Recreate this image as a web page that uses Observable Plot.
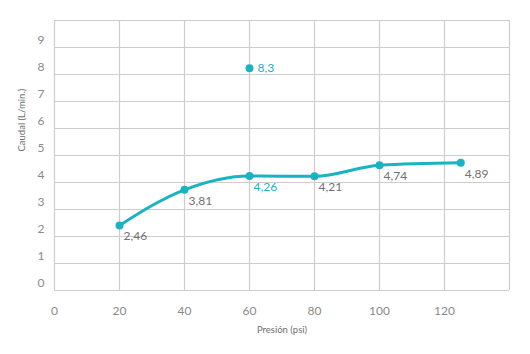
<!DOCTYPE html>
<html><head><meta charset="utf-8">
<script src="https://cdn.jsdelivr.net/npm/d3@7"></script>
<script src="https://cdn.jsdelivr.net/npm/@observablehq/plot@0.6"></script>
<style>body{margin:0;background:#fff;font-family:Lato,"Open Sans",sans-serif;}</style>
</head><body><div id="chart"></div>
<script>
const pressure = [20, 40, 60, 80, 100, 125];
const flow = [2.41, 3.73, 4.24, 4.23, 4.64, 4.73];
const flowLabels = ["2,46", "3,81", "4,26", "4,21", "4,74", "4,89"];
const labelHighlight = [false, false, true, false, false, false];
const outlierPressure = [60];
const outlierFlow = [8.23];
const outlierLabels = ["8,3"];
const xTicks = [0, 20, 40, 60, 80, 100, 120];
const xGrid = [0, 20, 40, 60, 80, 100, 120, 140];
const yTicks = [0, 1, 2, 3, 4, 5, 6, 7, 8, 9];
const yGrid = [0, 1, 2, 3, 4, 5, 6, 7, 8, 9, 10];
const xTitle = "Presión (psi)";
const yTitle = "Caudal (L/min.)";

const teal = "#1ab3c3";
const data = pressure.map((p, i) => ({p, f: flow[i], label: flowLabels[i], hi: labelHighlight[i]}));
const outlier = outlierPressure.map((p, i) => ({p, f: outlierFlow[i], label: outlierLabels[i]}));

const chart = Plot.plot({
  width: 530, height: 354,
  marginLeft: 54, marginRight: 21, marginTop: 20, marginBottom: 64,
  style: {fontFamily: "Lato, 'Open Sans', sans-serif", background: "#fff"},
  x: {domain: [0, 140]},
  y: {domain: [0, 10]},
  marks: [
    Plot.ruleX(xGrid, {stroke: "#cdcdcd", strokeWidth: 1.2}),
    Plot.ruleY(yGrid, {stroke: "#cdcdcd", strokeWidth: 1.2}),
    Plot.axisX(xTicks, {tickSize: 0, tickPadding: 0, dy: 16, label: null, fontSize: 12, fill: "#8a8a8a"}),
    Plot.axisY(yTicks, {tickSize: 0, tickPadding: 10, dy: -7, label: null, fontSize: 12, fill: "#8a8a8a"}),
    Plot.text([xTitle], {frameAnchor: "bottom", dy: 42, fontSize: 9.5, fill: "#6e6e6e"}),
    Plot.text([yTitle], {frameAnchor: "left", rotate: -90, dx: -33, dy: -4, fontSize: 9.5, fill: "#6e6e6e"}),
    Plot.line(data, {x: "p", y: "f", curve: "monotone-x", stroke: teal, strokeWidth: 3}),
    Plot.dot(data, {x: "p", y: "f", r: 4, fill: teal}),
    Plot.dot(outlier, {x: "p", y: "f", r: 4, fill: teal}),
    Plot.text(data, {x: "p", y: "f", text: "label", dx: 4, dy: 11, textAnchor: "start", fontSize: 12, fill: d => d.hi ? teal : "#707070"}),
    Plot.text(outlier, {x: "p", y: "f", text: "label", dx: 8, textAnchor: "start", fontSize: 12, fill: teal})
  ]
});
document.getElementById("chart").append(chart);
</script>
</body></html>
